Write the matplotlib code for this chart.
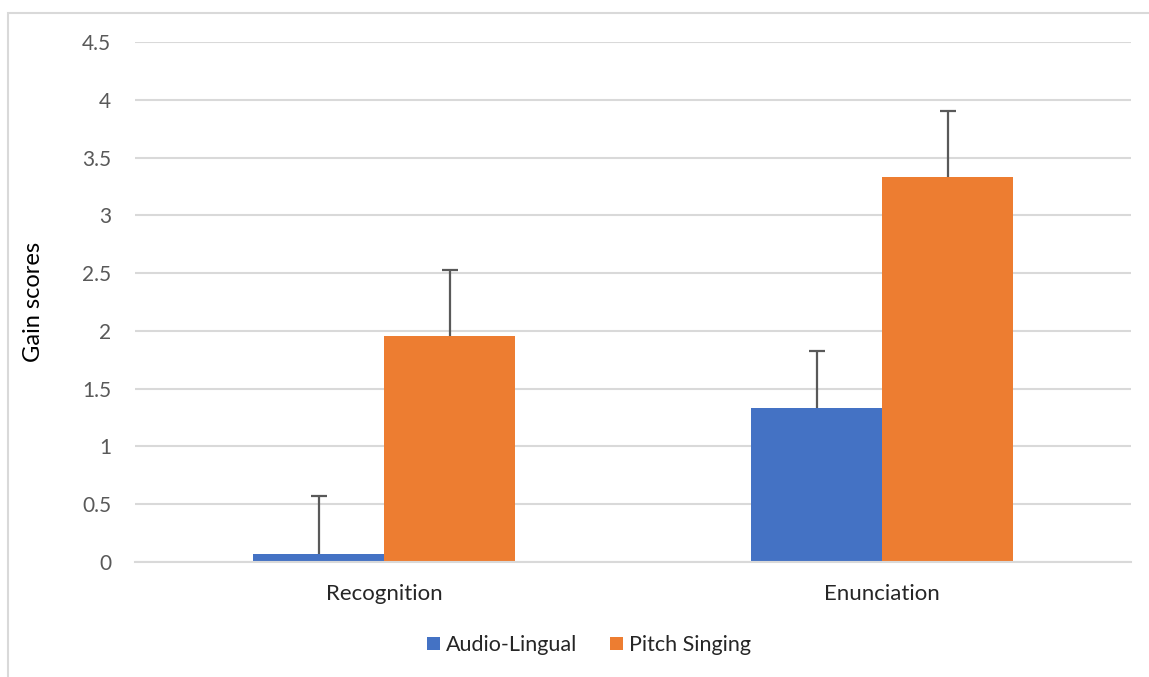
import numpy as np
import matplotlib.pyplot as plt
from matplotlib.patches import Rectangle

categories = ['Recognition', 'Enunciation']
series = ['Audio-Lingual', 'Pitch Singing']
audio_lingual = [0.07, 1.33]
pitch_singing = [1.96, 3.33]
audio_lingual_err = [0.50, 0.50]
pitch_singing_err = [0.57, 0.57]
colors = ['#4472C4', '#ED7D31']

plt.rcParams['font.family'] = ['Lato', 'DejaVu Sans']

fig = plt.figure(figsize=(11.49, 6.77), dpi=100)
W, H = 1149, 677
ax = fig.add_axes([135 / W, 1 - 562 / H, (1131 - 135) / W, (562 - 42) / H])

# chart border (clipped at right/bottom like the screenshot)
fig.patches.append(Rectangle((8 / W, -0.05), 1.2, 1 - 13 / H + 0.05,
                             transform=fig.transFigure, fill=False,
                             edgecolor='#D9D9D9', linewidth=1.5))

x = np.arange(len(categories))
w = 131 / 498
ekw = dict(ecolor='#595959', elinewidth=1.6, capsize=6, capthick=1.6)

for off, vals, errs, c, lab in [(-w / 2, audio_lingual, audio_lingual_err, colors[0], series[0]),
                                (w / 2, pitch_singing, pitch_singing_err, colors[1], series[1])]:
    bc = ax.bar(x + off, vals, w, color=c, label=lab,
                yerr=[np.zeros(2), errs], error_kw=ekw, zorder=2)
    # only the plus side: hide the cap sitting on the bar top
    for cap in bc.errorbar.lines[1]:
        if np.allclose(cap.get_ydata(), vals):
            cap.set_visible(False)

ax.set_xlim(-0.5, 1.5)
ax.set_ylim(0, 4.5)
ax.set_yticks(np.arange(0, 4.51, 0.5))
ax.set_yticklabels(['0', '0.5', '1', '1.5', '2', '2.5', '3', '3.5', '4', '4.5'])
ax.set_xticks(x)
ax.set_xticklabels(categories)
ax.grid(axis='y', color='#D9D9D9', linewidth=1.5, zorder=0)
ax.set_axisbelow(True)
for s in ['top', 'right', 'left']:
    ax.spines[s].set_visible(False)
ax.spines['bottom'].set_color('#D9D9D9')
ax.spines['bottom'].set_linewidth(1.5)
ax.tick_params(axis='y', length=0, pad=17, labelsize=15, labelcolor='#595959')
ax.tick_params(axis='x', length=0, pad=16, labelsize=16, labelcolor='#262626')

fig.text(33 / W, 1 - 302 / H, 'Gain scores', rotation=90, ha='center',
         va='center', fontsize=17, color='black')

fig.legend(loc='center', bbox_to_anchor=(589 / W, 1 - 645 / H), ncol=2,
           frameon=False, fontsize=15.5, handlelength=0.6, handleheight=0.6,
           handletextpad=0.3, columnspacing=1.5, labelcolor='#262626')

fig.savefig('out.png', dpi=100)
